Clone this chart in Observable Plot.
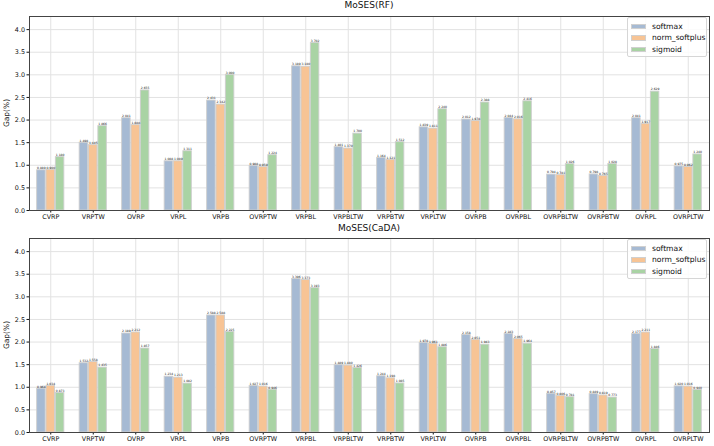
<!DOCTYPE html>
<html><head><meta charset="utf-8">
<script src="https://cdn.jsdelivr.net/npm/d3@7"></script>
<script src="https://cdn.jsdelivr.net/npm/@observablehq/plot@0.6"></script>
<style>
html,body{margin:0;padding:0;background:#fff;overflow:hidden}
#fig{position:relative;width:714px;height:446px;font-family:"DejaVu Sans",sans-serif;color:#111}
.panel{position:absolute;left:0}
.title{position:absolute;left:29px;width:680px;text-align:center;font-size:9px;line-height:9px}
.ylab{position:absolute;width:40px;text-align:center;font-size:7.5px;line-height:8px;transform:rotate(-90deg);white-space:nowrap}
.legend{position:absolute;left:627px;width:80px;height:40px;border:1px solid #d6d6d6;border-radius:2px;background:rgba(255,255,255,0.85);box-sizing:border-box;padding:3px 0 0 3px}
.row{display:flex;align-items:center;height:11.3px;font-size:7.6px}
.sw{width:15px;height:5.2px;margin-right:6px;box-sizing:border-box;border:0.6px solid #d0d0d0}
</style></head><body><div id="fig"></div><script>
const categories = ["CVRP","VRPTW","OVRP","VRPL","VRPB","OVRPTW","VRPBL","VRPBLTW","VRPBTW","VRPLTW","OVRPB","OVRPBL","OVRPBLTW","OVRPBTW","OVRPL","OVRPLTW"];
const seriesNames = ["softmax","norm_softplus","sigmoid"];
const seriesColors = ["#a6bad3","#f7c495","#a9d3a4"];
const yTicks = [0,0.5,1,1.5,2,2.5,3,3.5,4];

const rfSoftmax = [0.889,1.498,2.041,1.088,2.431,0.988,3.189,1.401,1.164,1.839,2.012,2.044,0.794,0.798,2.041,0.975];
const rfNormSoftplus = [0.900,1.445,1.888,1.089,2.342,0.959,3.180,1.370,1.121,1.811,1.978,2.016,0.781,0.765,1.917,0.962];
const rfSigmoid = [1.180,1.866,2.655,1.311,3.000,1.224,3.702,1.700,1.512,2.240,2.388,2.416,1.026,1.028,2.629,1.240];

const cadaSoftmax = [0.968,1.532,2.189,1.234,2.588,1.027,3.396,1.489,1.244,1.978,2.158,2.183,0.857,0.849,2.177,1.020];
const cadaNormSoftplus = [1.034,1.558,2.212,1.213,2.588,1.016,3.373,1.480,1.198,1.961,2.051,2.065,0.806,0.819,2.211,1.016];
const cadaSigmoid = [0.873,1.435,1.857,1.082,2.225,0.946,3.193,1.426,1.085,1.886,1.943,1.964,0.781,0.773,1.846,0.940];

function rows(arrs){
  const out=[];
  categories.forEach((c,i)=>arrs.forEach((a,s)=>out.push({category:c,i,s,series:seriesNames[s],value:a[i]})));
  return out;
}
const BW=0.2, OFF=0.22;
function chart(data, height, mb){
  return Plot.plot({
    width:714, height, marginLeft:29, marginRight:5, marginTop:16, marginBottom:mb,
    style:{fontFamily:"DejaVu Sans, sans-serif", fontSize:"6.4px", color:"#111", background:"white"},
    x:{domain:[-0.5,15.5]},
    y:{domain:[0,4.29]},
    color:{domain:seriesNames, range:seriesColors},
    marks:[
      Plot.gridY({ticks:yTicks, stroke:"#e2e2e2", strokeOpacity:1}),
      Plot.gridX({ticks:d3.range(categories.length), stroke:"#e2e2e2", strokeOpacity:1}),
      Plot.rect(data,{x1:d=>d.i+(d.s-1)*OFF-BW/2, x2:d=>d.i+(d.s-1)*OFF+BW/2, y1:0, y2:"value", fill:"series", stroke:"#cfcfcf", strokeWidth:0.9}),
      Plot.text(data,{x:d=>d.i+(d.s-1)*OFF, y:"value", text:d=>d.value.toFixed(3), dy:-1.2, lineAnchor:"bottom", fontSize:3, fill:"#111"}),
      Plot.axisY({ticks:yTicks, tickFormat:d3.format(".1f"), tickSize:2.5, tickPadding:2, label:null, fontSize:6.4}),
      Plot.axisX({ticks:d3.range(categories.length), tickFormat:i=>categories[i], tickSize:2.5, tickPadding:1.8, label:null, fontSize:6.4}),
      Plot.frame({stroke:"#444", strokeWidth:1})
    ]
  });
}
const fig=document.getElementById("fig");
function addPanel(top, height, mb, data, title, titleTop){
  const p=chart(data,height,mb);
  p.classList.add("panel"); p.style.top=top+"px";
  fig.appendChild(p);
  const t=document.createElement("div"); t.className="title"; t.textContent=title; t.style.top=titleTop+"px"; fig.appendChild(t);
  const yl=document.createElement("div"); yl.className="ylab"; yl.textContent="Gap(%)";
  yl.style.left=(7-20)+"px"; yl.style.top=(top+16+97-4)+"px"; fig.appendChild(yl);
  const lg=document.createElement("div"); lg.className="legend"; lg.style.top=(top+17)+"px";
  seriesNames.forEach((n,k)=>{
    const r=document.createElement("div"); r.className="row";
    const sw=document.createElement("div"); sw.className="sw"; sw.style.background=seriesColors[k];
    const tx=document.createElement("span"); tx.textContent=n;
    r.appendChild(sw); r.appendChild(tx); lg.appendChild(r);
  });
  fig.appendChild(lg);
}
addPanel(0,223,13,rows([rfSoftmax,rfNormSoftplus,rfSigmoid]),"MoSES(RF)",0.5);
addPanel(222,224,14,rows([cadaSoftmax,cadaNormSoftplus,cadaSigmoid]),"MoSES(CaDA)",223.5);
</script></body></html>
